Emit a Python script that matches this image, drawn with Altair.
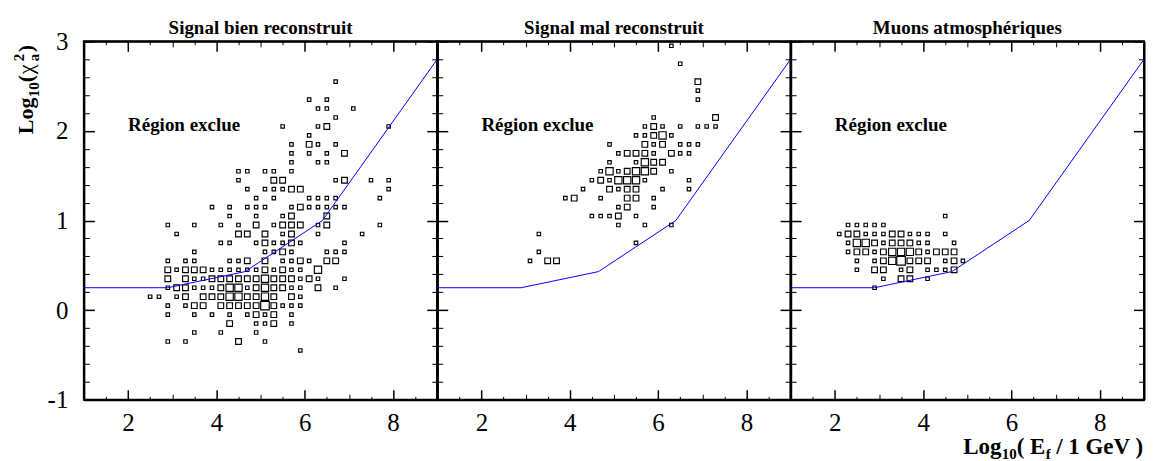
import altair as alt
import pandas as pd

W = 354.0
H = 359.0

# ---------------- axis values ----------------
x_labels = [2, 4, 6, 8]
y_labels = [-1, 0, 1, 2, 3]
x_major = [2, 4, 6, 8]
x_mid = [3, 5, 7]
x_minor = [1.5, 2.5, 3.5, 4.5, 5.5, 6.5, 7.5, 8.5]
y_major = [-1, 0, 1, 2, 3]
y_minor = [-0.8, -0.6, -0.4, -0.2, 0.2, 0.4, 0.6, 0.8, 1.2, 1.4, 1.6, 1.8,
           2.2, 2.4, 2.6, 2.8]

# ---------------- cut line ----------------
cut_x = [1.0, 2.9, 4.65, 6.4, 9.0]
cut_y = [0.25, 0.25, 0.43, 1.0, 2.8]

titles = ["Signal bien reconstruit", "Signal mal reconstruit", "Muons atmosphériques"]
label_text = ["Région exclue"]
label_x = [2.0]
label_y = [2.0]

# ---------------- panel 1 : signal bien reconstruit ----------------
p1_y = [2.55, 2.35, 2.25, 2.15, 2.05, 1.95, 1.85, 1.75, 1.65, 1.55, 1.45, 1.35,
        1.25, 1.15, 1.05, 0.95, 0.85, 0.75, 0.65, 0.55, 0.45, 0.35, 0.25, 0.15,
        0.05, -0.05, -0.15, -0.25, -0.35, -0.45]
p1_x = [
    [6.7],
    [6.1, 6.5],
    [6.3, 6.5, 7.1],
    [6.7],
    [5.5, 6.3, 6.5, 7.9],
    [6.1],
    [5.7, 6.1, 6.3, 6.7],
    [5.7, 6.1, 6.5, 6.9],
    [5.7, 6.3, 6.5],
    [4.5, 4.7, 5.1, 5.3, 5.7],
    [4.5, 5.3, 5.5, 6.7, 6.9, 7.5, 7.9],
    [4.7, 5.1, 5.3, 5.5, 5.7, 5.9, 7.9],
    [4.9, 5.3, 6.1, 6.3, 6.5, 6.7, 7.7],
    [3.9, 4.3, 4.7, 4.9, 5.1, 5.7, 5.9, 6.1, 6.3, 6.5, 6.7, 6.9],
    [4.3, 4.9, 5.5, 5.7, 6.5],
    [2.9, 3.5, 4.1, 4.5, 4.9, 5.3, 5.5, 5.7, 5.9, 6.3, 6.5, 7.7],
    [3.1, 4.5, 4.7, 5.1, 5.5, 5.7, 6.3, 7.3],
    [4.1, 4.3, 4.9, 5.1, 5.3, 5.5, 5.7, 5.9, 6.9],
    [3.5, 5.1, 5.3, 5.5, 5.7, 6.5, 6.7, 6.9],
    [2.9, 3.3, 3.5, 4.3, 4.5, 4.7, 5.1, 5.5, 5.7, 5.9, 6.1, 6.5, 6.7],
    [2.9, 3.1, 3.3, 3.5, 3.7, 3.9, 4.1, 4.3, 4.5, 4.7, 4.9, 5.1, 5.3, 5.5, 5.7, 5.9, 6.3],
    [2.9, 3.3, 3.5, 3.7, 3.9, 4.1, 4.3, 4.5, 4.7, 4.9, 5.1, 5.3, 5.5, 5.7, 5.9, 6.1, 6.3, 6.9],
    [2.9, 3.1, 3.3, 3.5, 3.7, 3.9, 4.1, 4.3, 4.5, 4.7, 4.9, 5.1, 5.3, 5.5, 5.7, 5.9, 6.3, 6.7],
    [2.5, 2.7, 3.1, 3.3, 3.7, 3.9, 4.1, 4.3, 4.5, 4.7, 4.9, 5.1, 5.3, 5.7, 5.9],
    [2.9, 3.3, 3.5, 3.7, 4.1, 4.3, 4.5, 4.7, 4.9, 5.1, 5.3, 5.5, 5.7, 5.9],
    [2.9, 3.5, 3.9, 4.3, 4.7, 4.9, 5.1, 5.3, 5.7],
    [4.3, 4.9, 5.1, 5.3, 5.7],
    [3.5, 4.1, 4.9],
    [2.9, 3.3, 4.5, 5.1],
    [5.9],
]
p1_n = [
    [1],
    [1, 1],
    [1, 1, 1],
    [1],
    [1, 1, 2, 1],
    [1],
    [1, 2, 1, 1],
    [1, 1, 1, 2],
    [1, 1, 1],
    [1, 1, 1, 1, 1],
    [1, 2, 2, 1, 2, 1, 1],
    [1, 1, 1, 1, 2, 2, 1],
    [1, 1, 1, 1, 1, 1, 1],
    [1, 1, 1, 1, 1, 1, 2, 1, 1, 1, 1, 1],
    [1, 1, 1, 2, 2],
    [1, 1, 1, 1, 2, 1, 2, 2, 2, 1, 2, 1],
    [1, 2, 2, 2, 1, 2, 1, 1],
    [1, 1, 1, 2, 1, 1, 2, 1, 1],
    [1, 1, 1, 2, 1, 1, 1, 1],
    [1, 1, 1, 1, 1, 2, 2, 1, 1, 2, 1, 2, 2],
    [2, 1, 2, 2, 2, 1, 1, 1, 1, 1, 1, 2, 1, 2, 1, 1, 3],
    [2, 2, 1, 1, 2, 2, 2, 2, 2, 2, 3, 2, 2, 2, 1, 2, 1, 1],
    [1, 2, 2, 1, 1, 1, 2, 3, 3, 1, 2, 3, 2, 2, 1, 1, 2, 1],
    [1, 1, 1, 2, 2, 2, 2, 3, 3, 2, 2, 3, 2, 2, 1],
    [1, 1, 2, 2, 2, 2, 2, 2, 2, 4, 2, 1, 1, 1],
    [1, 1, 1, 1, 1, 2, 1, 2, 1],
    [2, 1, 1, 2, 1],
    [1, 1, 1],
    [1, 1, 2, 1],
    [1],
]

# ---------------- panel 2 : signal mal reconstruit ----------------
p2_y = [2.95, 2.75, 2.55, 2.45, 2.35, 2.15, 2.05, 1.95, 1.85, 1.75, 1.65, 1.55,
        1.45, 1.35, 1.25, 1.15, 1.05, 0.95, 0.85, 0.75, 0.65, 0.55]
p2_x = [
    [6.3], [6.5], [6.9], [6.9], [6.9], [5.9, 7.3],
    [5.7, 5.9, 6.1, 6.5, 6.9, 7.1, 7.3],
    [5.5, 5.7, 5.9, 6.1, 6.3],
    [4.9, 5.7, 5.9, 6.1, 6.5, 6.7, 6.9],
    [5.1, 5.3, 5.5, 5.7, 5.9, 6.3, 6.5, 6.7],
    [4.9, 5.5, 5.7, 5.9, 6.1],
    [4.7, 4.9, 5.1, 5.3, 5.5, 5.7, 5.9, 6.3],
    [4.5, 4.7, 4.9, 5.1, 5.3, 5.5, 5.7, 6.7],
    [4.3, 4.9, 5.1, 5.3, 5.5, 6.1, 6.7],
    [3.9, 4.1, 4.7, 5.3, 5.5, 5.9],
    [5.1, 5.3, 5.9],
    [4.5, 4.7, 4.9, 5.1, 5.5],
    [5.1, 5.7, 6.3],
    [3.3], [5.5], [3.3], [3.1, 3.5, 3.7],
]
p2_n = [
    [1], [1], [2], [1], [1], [1, 2],
    [1, 2, 1, 1, 1, 1, 1],
    [1, 1, 2, 3, 1],
    [1, 2, 1, 2, 1, 1, 1],
    [1, 2, 2, 2, 1, 2, 1, 1],
    [1, 1, 3, 2, 2],
    [1, 3, 1, 2, 3, 3, 2, 1],
    [1, 2, 1, 3, 3, 3, 1, 1],
    [1, 2, 1, 2, 2, 1, 1],
    [1, 2, 1, 2, 2, 1],
    [1, 2, 1],
    [1, 1, 1, 2, 1],
    [1, 1, 1],
    [1], [1], [1], [1, 2, 2],
]

# ---------------- panel 3 : muons atmospheriques ----------------
p3_y = [1.05, 0.95, 0.85, 0.75, 0.65, 0.55, 0.45, 0.35, 0.25]
p3_x = [
    [4.5],
    [2.3, 2.5, 2.7, 2.9, 3.1],
    [2.1, 2.3, 2.5, 2.7, 2.9, 3.1, 3.3, 3.5, 3.7, 3.9, 4.1, 4.5],
    [2.3, 2.5, 2.7, 2.9, 3.1, 3.3, 3.5, 3.7, 3.9, 4.1, 4.7],
    [2.3, 2.5, 2.7, 2.9, 3.1, 3.3, 3.5, 3.7, 3.9, 4.1, 4.3, 4.5, 4.7],
    [2.5, 2.9, 3.1, 3.3, 3.5, 3.7, 3.9, 4.1, 4.5, 4.7, 4.9],
    [2.5, 2.9, 3.1, 3.5, 3.7, 4.1, 4.3, 4.5, 4.7],
    [3.1, 3.5, 3.7, 4.1],
    [2.9],
]
p3_n = [
    [1],
    [1, 1, 1, 1, 1],
    [1, 2, 2, 1, 1, 1, 2, 2, 1, 1, 1, 1],
    [1, 3, 3, 2, 1, 2, 2, 2, 1, 1, 1],
    [1, 2, 2, 1, 2, 3, 3, 3, 2, 1, 2, 2, 2],
    [1, 1, 2, 3, 4, 2, 2, 2, 1, 2, 1],
    [1, 2, 2, 1, 2, 1, 1, 1, 2],
    [1, 2, 2, 1],
    [1],
]


def to_df(ys, xs, ns):
    rows = []
    for yv, xr, nr in zip(ys, xs, ns):
        assert len(xr) == len(nr), (yv, xr, nr)
        for xv, nv in zip(xr, nr):
            rows.append({"x": xv, "y": yv, "n": nv})
    return pd.DataFrame(rows)


cut_df = pd.DataFrame({"x": cut_x, "y": cut_y})
label_df = pd.DataFrame({"x": label_x, "y": label_y, "t": label_text})

SERIF = "Liberation Serif"
xs = alt.Scale(domain=[1, 9], nice=False, zero=False)
ys = alt.Scale(domain=[-1, 3], nice=False, zero=False)


def X(axis):
    return alt.X("x:Q", scale=xs, axis=axis, title=None)


def Y(axis):
    return alt.Y("y:Q", scale=ys, axis=axis, title=None)


def tick(orient, values, size, offset, width=1.0, frame=False):
    return alt.Axis(orient=orient, offset=offset, values=values, tickSize=size,
                    tickWidth=width, tickColor="black", ticks=True, labels=False,
                    domain=frame, domainColor="black", domainWidth=2,
                    grid=False, title=None)


def text_piece(txt, dx, dy, size, weight, x, y, angle=0, align="left"):
    return alt.Chart(pd.DataFrame({"t": [txt]})).mark_text(
        font=SERIF, fontSize=size, fontWeight=weight, align=align,
        baseline="alphabetic", dx=dx, dy=dy, angle=angle, color="black"
    ).encode(text="t:N", x=alt.value(x), y=alt.value(y))


def panel(i, df, first, last):
    lab_x = alt.Axis(values=x_labels, ticks=False, domain=False, grid=False,
                     labelFontSize=25, labelFont=SERIF, labelColor="black",
                     labelPadding=11, labelFlush=False, title=None)
    lab_y = None
    if first:
        lab_y = alt.Axis(values=y_labels, ticks=False, domain=False, grid=False,
                         labelFontSize=25, labelFont=SERIF, labelColor="black",
                         labelPadding=16, labelExpr="'' + datum.value",
                         labelBaseline="middle", title=None)
    boxes = alt.Chart(df).mark_square(filled=False, color="black", strokeWidth=1.15,
                                      opacity=1).encode(
        x=X(lab_x), y=Y(lab_y),
        size=alt.Size("n:Q", scale=alt.Scale(domain=[1, 4], range=[12, 74]), legend=None),
    )
    line = alt.Chart(cut_df).mark_line(color="#0000ff", strokeWidth=1).encode(
        x=X(tick("top", x_major, 10, -H, 1.5, True)),
        y=Y(tick("right", y_major, 10.5, -W, 1.5, True)),
    )
    inv = alt.Chart(cut_df).mark_point(opacity=0)
    t3 = inv.encode(x=X(tick("top", x_mid, 5.5, -H)), y=Y(tick("right", y_minor, 5.5, -W)))
    t4 = inv.encode(x=X(tick("top", x_minor, 3.3, -H)),
                    y=Y(tick("left", y_major, 10.5, -W, 1.5, True)))
    t5 = inv.encode(x=X(tick("bottom", x_major, 10, -H, 1.5, True)),
                    y=Y(tick("left", y_minor, 5.5, -W)))
    t6 = inv.encode(x=X(tick("bottom", x_mid, 5.5, -H)), y=Y(None))
    t7 = inv.encode(x=X(tick("bottom", x_minor, 3.3, -H)), y=Y(None))

    label = alt.Chart(label_df).mark_text(
        font=SERIF, fontSize=19, fontWeight="bold", align="left",
        baseline="alphabetic", color="black"
    ).encode(x=X(None), y=Y(None), text="t:N")
    title = text_piece(titles[i], 0, 0, 19, "bold", W / 2, -7.5, align="center")

    layers = [boxes, line, t3, t4, t5, t6, t7, label, title]

    if first:
        ax, ay, ang = -51, 0, 270
        layers += [
            text_piece("Log", -93, 0, 22, "bold", ax, ay, ang),
            text_piece("10", -56, 6, 15, "bold", ax, ay, ang),
            text_piece("(", -41, 0, 22, "bold", ax, ay, ang),
            text_piece("χ", -33, 0, 22, "normal", ax, ay, ang),
            text_piece("2", -20, -9, 15, "bold", ax, ay, ang),
            text_piece("a", -20, 6, 15, "bold", ax, ay, ang),
            text_piece(")", -11, 0, 22, "bold", ax, ay, ang),
        ]
    if last:
        bx, by = W, H + 54
        layers += [
            text_piece("Log", -181, 0, 23, "bold", bx, by),
            text_piece("10", -142.5, 5, 15, "bold", bx, by),
            text_piece("( E", -127.5, 0, 23, "bold", bx, by),
            text_piece("f", -98.5, 5, 15, "bold", bx, by),
            text_piece("/ 1 GeV )", -88, 0, 23, "bold", bx, by),
        ]

    return alt.layer(*layers).resolve_axis(x="independent", y="independent").properties(
        width=W, height=H)


p1 = panel(0, to_df(p1_y, p1_x, p1_n), True, False)
p2 = panel(1, to_df(p2_y, p2_x, p2_n), False, False)
p3 = panel(2, to_df(p3_y, p3_x, p3_n), False, True)

chart = alt.hconcat(p1, p2, p3, spacing=0, bounds="flush").properties(
    padding={"left": 3, "top": 9, "right": 0, "bottom": 0},
    background="white",
).configure(font=SERIF).configure_view(stroke="black", strokeWidth=2)

chart.save("out.html", embed_options={"renderer": "svg", "actions": False})
